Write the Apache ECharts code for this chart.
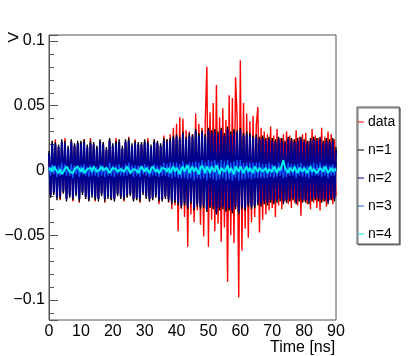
<!DOCTYPE html>
<html>
<head>
<meta charset="utf-8">
<script src="https://cdn.jsdelivr.net/npm/echarts@6/dist/echarts.min.js"></script>
<style>
  html, body { margin: 0; padding: 0; background: #fff; }
  #chart { width: 415px; height: 356px; }
</style>
</head>
<body>
<div id="chart"></div>
<script>
/* ---------------- data : samples every 0.5 ns, 0 .. 90 ns ---------------- */
const dt = 0.5;
const names = ['data', 'n=1', 'n=2', 'n=3', 'n=4'];
const xTicks = [0, 10, 20, 30, 40, 50, 60, 70, 80, 90];
const yTicks = [-0.1, -0.05, 0, 0.05, 0.1];

const sigData = [
  .012,-.019,.022,-.016,.024,-.021,.018,-.023,.020,-.017,.025,-.022,.015,-.020,.023,-.024,.019,-.018,.021,-.025,
  .022,-.016,.024,-.021,.017,-.023,.025,-.019,.020,-.024,.018,-.022,.023,-.017,.021,-.025,.016,-.020,.024,-.022,
  .019,-.023,.025,-.018,.022,-.021,.017,-.024,.023,-.020,.026,-.019,.018,-.023,.024,-.022,.020,-.025,.021,-.017,
  .023,-.021,.025,-.024,.018,-.022,.024,-.020,.022,-.026,.019,-.023,.027,-.021,.024,-.025,.028,-.030,.033,-.027,
  .036,-.047,.041,-.030,.040,-.036,.031,-.059,.030,-.034,.028,-.040,.044,-.031,.036,-.042,.033,-.051,.038,.080,
  -.059,.045,-.038,.052,-.047,.066,-.041,.041,-.055,.048,-.044,.039,-.086,.058,-.050,.056,-.056,.072,.040,-.098,
  .085,-.062,.052,-.045,.044,-.052,.038,-.040,.042,-.036,.035,.049,-.048,.033,-.038,.030,-.034,.028,-.031,.034,
  -.029,.027,-.036,.032,-.027,.025,-.030,.028,-.024,.030,-.026,.027,-.029,.024,-.025,.031,-.027,.026,-.035,.028,
  -.024,.029,-.026,.023,-.030,.032,-.025,.027,-.029,.025,-.031,.033,-.024,.026,-.028,.030,-.023,.028,-.026,.024,
  -.020
];
const sigN1 = [
  .015,-.021,.023,-.019,.022,-.023,.020,-.022,.024,-.018,.023,-.024,.019,-.021,.024,-.023,.021,-.020,.023,-.024,
  .023,-.019,.024,-.022,.020,-.024,.023,-.021,.022,-.023,.019,-.024,.024,-.020,.022,-.024,.018,-.022,.025,-.023,
  .021,-.024,.023,-.020,.024,-.022,.019,-.023,.024,-.021,.025,-.020,.021,-.024,.023,-.023,.022,-.024,.022,-.019,
  .024,-.022,.023,-.024,.020,-.023,.024,-.021,.023,-.024,.021,-.024,.025,-.022,.024,-.024,.025,-.026,.027,-.025,
  .028,-.027,.026,-.029,.030,-.027,.026,-.030,.029,-.026,.028,-.031,.032,-.028,.029,-.030,.031,-.029,.028,-.032,
  .033,-.029,.031,-.030,.032,-.034,.030,-.031,.033,-.030,.029,-.032,.034,-.031,.030,-.033,.032,-.030,.031,-.034,
  .033,-.030,.029,-.031,.030,-.028,.029,-.030,.027,-.029,.028,-.027,.026,-.028,.027,-.026,.025,-.027,.026,-.025,
  .025,-.026,.024,-.025,.026,-.024,.025,-.026,.023,-.025,.026,-.024,.025,-.023,.024,-.026,.025,-.024,.026,-.025,
  .024,-.025,.023,-.026,.025,-.024,.026,-.023,.025,-.024,.026,-.025,.023,-.024,.025,-.026,.024,-.023,.025,-.024,
  .018
];
const sigN2 = [
  .013,-.019,.021,-.017,.020,-.021,.018,-.020,.022,-.016,.021,-.022,.017,-.019,.022,-.021,.019,-.018,.021,-.022,
  .021,-.017,.022,-.020,.018,-.022,.021,-.019,.020,-.021,.017,-.022,.022,-.018,.020,-.022,.016,-.020,.023,-.021,
  .019,-.022,.021,-.018,.022,-.020,.017,-.021,.022,-.019,.023,-.018,.019,-.022,.021,-.021,.020,-.022,.020,-.017,
  .022,-.020,.021,-.022,.018,-.021,.022,-.019,.021,-.022,.019,-.022,.023,-.020,.022,-.022,.023,-.024,.025,-.023,
  .026,-.025,.024,-.027,.028,-.025,.024,-.028,.027,-.024,.026,-.029,.030,-.026,.027,-.028,.029,-.027,.026,-.030,
  .031,-.027,.029,-.028,.030,-.032,.028,-.029,.031,-.028,.027,-.030,.032,-.029,.028,-.031,.030,-.028,.029,-.032,
  .031,-.028,.027,-.029,.028,-.026,.027,-.028,.025,-.027,.026,-.025,.024,-.026,.025,-.024,.023,-.025,.024,-.023,
  .023,-.024,.022,-.023,.024,-.022,.023,-.024,.021,-.023,.024,-.022,.023,-.021,.022,-.024,.023,-.022,.024,-.023,
  .022,-.023,.021,-.024,.023,-.022,.024,-.021,.023,-.022,.024,-.023,.021,-.022,.023,-.024,.022,-.021,.023,-.022,
  .016
];
const sigN3 = [
  .003,-.004,.005,-.003,.004,-.005,.004,-.004,.006,-.003,.005,-.004,.003,-.004,.005,-.006,.004,-.003,.004,-.005,
  .004,-.003,.005,-.004,.003,-.005,.004,-.004,.004,-.004,.003,-.005,.005,-.004,.004,-.005,.003,-.004,.006,-.004,
  .004,-.005,.004,-.003,.005,-.004,.003,-.004,.005,-.004,.006,-.003,.004,-.005,.004,-.004,.004,-.005,.004,-.003,
  .005,-.004,.004,-.005,.003,-.004,.005,-.004,.004,-.005,.004,-.004,.006,-.004,.005,-.005,.006,-.006,.006,-.005,
  .006,-.006,.005,-.006,.007,-.006,.005,-.007,.006,-.006,.006,-.008,.007,-.006,.006,-.007,.008,-.006,.006,-.008,
  .008,-.006,.007,-.007,.008,-.008,.006,-.007,.008,-.006,.007,-.008,.008,-.007,.006,-.008,.007,-.006,.008,-.008,
  .008,-.007,.006,-.007,.006,-.006,.006,-.007,.006,-.006,.006,-.006,.006,-.006,.005,-.006,.005,-.006,.006,-.005,
  .005,-.006,.004,-.005,.006,-.004,.005,-.006,.004,-.005,.006,-.004,.005,-.004,.005,-.006,.005,-.004,.006,-.005,
  .004,-.005,.004,-.006,.005,-.004,.006,-.004,.005,-.004,.006,-.005,.004,-.004,.005,-.006,.004,-.004,.005,-.004,
  .003
];
const sigN4 = [
  .000,.002,-.001,.003,.001,.002,-.002,.001,-.003,-.001,.001,.003,.002,-.001,.000,-.002,.001,.002,.003,.001,
  -.001,.002,-.002,-.003,.001,.000,.002,-.001,.003,.002,-.001,-.002,.001,.003,.000,-.001,.002,.001,-.002,.000,
  .002,.003,.001,-.001,-.002,.001,.002,-.001,.000,.003,.002,-.002,-.001,.001,.002,.000,-.002,.001,.003,.001,
  -.001,.002,.000,-.002,.001,.003,.002,-.001,.001,-.002,.000,.002,.003,.001,-.001,.002,-.002,.001,.003,-.001,
  .002,.000,-.003,.001,.003,-.001,.002,.004,-.002,.001,.003,-.001,.002,.000,-.003,.002,.004,.001,-.002,.003,
  .001,-.002,.003,.002,-.001,.004,.001,-.003,.002,.003,-.001,.001,.004,-.002,.002,.000,-.003,.003,.001,-.001,
  .003,.002,-.002,.001,.003,-.001,.002,.000,-.002,.003,.001,-.001,.002,.003,-.001,.000,.002,-.002,.001,.002,
  -.001,.003,.001,-.002,.002,.000,.004,.008,.002,.001,-.002,.002,.001,-.001,.003,.000,-.002,.002,.001,-.001,
  .002,.000,-.002,.001,.003,-.001,.001,.002,-.002,.000,.002,.001,-.001,.003,.001,-.002,.000,.002,-.001,.001,
  .000
];
const signals = [sigData, sigN1, sigN2, sigN3, sigN4];

/* ---------------- styles ---------------- */
const colors = ['#ff0000', '#000000', '#000090', '#1060ff', '#00f0f0'];
const widths = [1.4, 1.4, 2.1, 1.2, 2];
const font = 'Liberation Sans, Arial, sans-serif';
const axisGrey = '#555';

let pairs = function (arr) {
    return arr.map((v, i) => [i * dt, v]);
};

let option = {
    animation: false,
    backgroundColor: '#fff',
    grid: {
        left: 49, right: 79, top: 35, bottom: 36,
        show: true,
        borderColor: axisGrey,
        borderWidth: 1
    },
    legend: {
        orient: 'vertical',
        left: 357, top: 107,
        data: names,
        icon: 'rect',
        itemWidth: 6,
        itemHeight: 1,
        itemGap: 14,
        padding: [8, 4, 3, 1],
        borderColor: axisGrey,
        borderWidth: 1,
        backgroundColor: '#fff',
        shadowColor: '#777',
        shadowOffsetX: 1,
        shadowOffsetY: 1,
        shadowBlur: 0,
        textStyle: { fontFamily: font, fontSize: 14, color: '#000', padding: [0, 0, 0, -1] }
    },
    xAxis: {
        type: 'value',
        min: xTicks[0],
        max: xTicks[xTicks.length - 1],
        interval: 10,
        axisLine: { show: true, lineStyle: { color: axisGrey } },
        axisTick: { show: true, inside: true, length: 8, lineStyle: { color: axisGrey } },
        minorTick: { show: true, splitNumber: 5, length: 4, lineStyle: { color: axisGrey } },
        splitLine: { show: false },
        axisLabel: { fontFamily: font, fontSize: 16, color: '#000', margin: 4 }
    },
    yAxis: {
        type: 'value',
        min: -0.1155,
        max: 0.1046,
        splitNumber: 5,
        axisLine: { show: true, lineStyle: { color: axisGrey } },
        axisTick: { show: true, inside: true, length: 9, lineStyle: { color: axisGrey } },
        minorTick: { show: true, splitNumber: 5, length: 5, lineStyle: { color: axisGrey } },
        splitLine: { show: false },
        axisLabel: {
            fontFamily: font, fontSize: 16, color: '#000', margin: 4,
            showMinLabel: false, showMaxLabel: false,
            formatter: function (v) {
                let hit = yTicks.find(t => Math.abs(t - v) < 1e-6);
                return hit === undefined ? '' : String(hit).replace('-', '\u2212');
            }
        }
    },
    graphic: [
        { type: 'text', left: 270, top: 340,
          style: { text: 'Time [ns]', fontFamily: font, fontSize: 16, fill: '#000' } },
        { type: 'text', left: 7, top: 28,
          style: { text: '>', fontFamily: font, fontSize: 21, fill: '#000' } }
    ],
    series: names.map((n, k) => ({
        name: n,
        type: 'line',
        data: pairs(signals[k]),
        showSymbol: false,
        symbol: 'none',
        color: colors[k],
        lineStyle: { width: widths[k], color: colors[k] },
        clip: true
    }))
};

let chart = echarts.init(document.getElementById('chart'));
chart.setOption(option);
</script>
</body>
</html>
